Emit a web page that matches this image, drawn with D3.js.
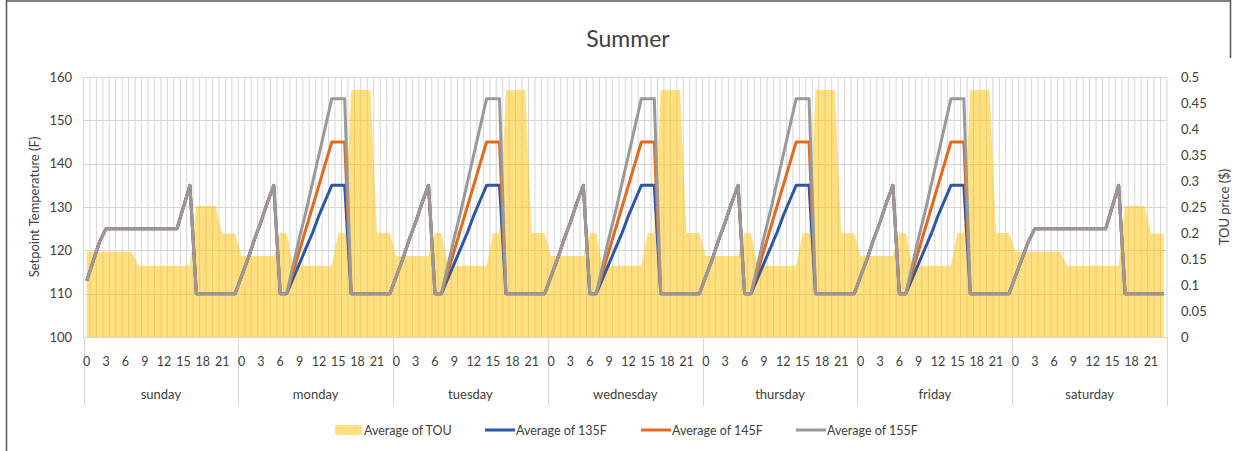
<!DOCTYPE html>
<html>
<head>
<meta charset="utf-8">
<script src="https://cdn.jsdelivr.net/npm/d3@7"></script>
<style>
  body { margin: 0; background: #fff; }
  svg text { font-family: Lato, "Open Sans", sans-serif; fill: #404040; }
</style>
</head>
<body>
<svg id="chart" width="1245" height="451"></svg>
<script>
// categories
var days = ["sunday", "monday", "tuesday", "wednesday", "thursday", "friday", "saturday"];
var hours = [0,1,2,3,4,5,6,7,8,9,10,11,12,13,14,15,16,17,18,19,20,21,22,23];
var hourLabels = [0, 3, 6, 9, 12, 15, 18, 21];

// TOU price ($) by hour, one profile for weekend and one for weekdays
var touWeekend = [0.164,0.164,0.164,0.164,0.164,0.164,0.164,0.164,
  0.137,0.137,0.137,0.137,0.137,0.137,0.137,0.137,0.137,
  0.252,0.252,0.252,0.252,0.199,0.199,0.199];
var touWeekday = [0.156,0.156,0.156,0.156,0.156,0.156,0.2,0.2,
  0.137,0.137,0.137,0.137,0.137,0.137,0.137,0.2,0.2,
  0.475,0.475,0.475,0.475,0.2,0.2,0.2];

// setpoint temperature (F) by hour
var tempSunday = [113,117.5,122,125,125,125,125,125,125,125,125,125,125,125,125,130,135,110,110,110,110,110,110,110];
var tempSaturday = [114,118,122,125,125,125,125,125,125,125,125,125,125,125,125,130,135,110,110,110,110,110,110,110];
var temp135Weekday = [114,118,122.5,126.5,131,135,110,110,113.5,117,120.5,124,128,131.5,135,135,135,110,110,110,110,110,110,110];
var temp145Weekday = [114,118,122.5,126.5,131,135,110,110,115,120,125,130,135,140,145,145,145,110,110,110,110,110,110,110];
var temp155Weekday = [114,118,122.5,126.5,131,135,110,110,116.5,123,129,135.5,142,148.5,155,155,155,110,110,110,110,110,110,110];

var leftTicks = [100,110,120,130,140,150,160];
var rightTicks = [0,0.05,0.1,0.15,0.2,0.25,0.3,0.35,0.4,0.45,0.5];

var seriesInfo = [
  { key: "t135", name: "Average of 135F", color: "#2B57A7" },
  { key: "t145", name: "Average of 145F", color: "#E2691D" },
  { key: "t155", name: "Average of 155F", color: "#999999" }
];

// build the week table
var rows = [];
days.forEach(function (day, di) {
  var weekend = (di === 0 || di === 6);
  var tEnd = di === 0 ? tempSunday : tempSaturday;
  hours.forEach(function (h) {
    rows.push({
      idx: di * 24 + h,
      day: day,
      hour: h,
      tou: weekend ? touWeekend[h] : touWeekday[h],
      t135: weekend ? tEnd[h] : temp135Weekday[h],
      t145: weekend ? tEnd[h] : temp145Weekday[h],
      t155: weekend ? tEnd[h] : temp155Weekday[h]
    });
  });
});

var svg = d3.select("#chart");
var plotL = 83.5, plotR = 1167, plotT = 77, plotB = 337;

var x = d3.scaleBand()
  .domain(rows.map(function (d) { return d.idx; }))
  .range([plotL, plotR])
  .paddingInner(0).paddingOuter(0);
var cx = function (d) { return x(d.idx) + x.bandwidth() / 2; };

var yL = d3.scaleLinear().domain([100, 160]).range([plotB, plotT]);
var yR = d3.scaleLinear().domain([0, 0.5]).range([plotB, plotT]);

// outer frame (as cropped in the screenshot)
svg.append("line").attr("x1", 6.5).attr("x2", 6.5).attr("y1", 0).attr("y2", 451)
  .attr("stroke", "#555").attr("stroke-width", 1.5);
svg.append("line").attr("x1", 6).attr("x2", 1231).attr("y1", 1).attr("y2", 1)
  .attr("stroke", "#555").attr("stroke-width", 1.5);
svg.append("line").attr("x1", 1230.5).attr("x2", 1230.5).attr("y1", 0).attr("y2", 58)
  .attr("stroke", "#555").attr("stroke-width", 1.5);

// title
svg.append("text").attr("x", 628).attr("y", 47).attr("text-anchor", "middle")
  .style("font-size", "23px").text("Summer");

// gridlines
var grid = svg.append("g").attr("stroke", "#D6D6D6").attr("stroke-width", 1);
grid.selectAll(".hg").data(leftTicks).enter().append("line")
  .attr("x1", plotL).attr("x2", plotR)
  .attr("y1", function (d) { return Math.round(yL(d)) + 0.5; })
  .attr("y2", function (d) { return Math.round(yL(d)) + 0.5; });
grid.selectAll(".vg").data(rows.concat([{ idx: 168 }])).enter().append("line")
  .attr("x1", function (d) { return d.idx < 168 ? x(d.idx) : plotR; })
  .attr("x2", function (d) { return d.idx < 168 ? x(d.idx) : plotR; })
  .attr("y1", plotT).attr("y2", plotB);

// TOU area
var area = d3.area()
  .x(cx)
  .y0(plotB)
  .y1(function (d) { return yR(d.tou); });
svg.append("path").datum(rows)
  .attr("d", area)
  .attr("fill", "#FFC000")
  .attr("fill-opacity", 0.5);

// temperature lines
seriesInfo.forEach(function (s) {
  var line = d3.line()
    .x(cx)
    .y(function (d) { return yL(d[s.key]); });
  svg.append("path").datum(rows)
    .attr("d", line)
    .attr("fill", "none")
    .attr("stroke", s.color)
    .attr("stroke-width", 3)
    .attr("stroke-linejoin", "round");
});

// left axis labels
svg.selectAll(".lt").data(leftTicks).enter().append("text")
  .attr("x", 72).attr("y", function (d) { return yL(d) + 4.5; })
  .attr("text-anchor", "end").style("font-size", "13px")
  .text(function (d) { return d; });
svg.append("text")
  .attr("transform", "translate(39," + ((plotT + plotB) / 2) + ") rotate(-90)")
  .attr("text-anchor", "middle").style("font-size", "13px")
  .text("Setpoint Temperature (F)");

// right axis labels
svg.selectAll(".rt").data(rightTicks).enter().append("text")
  .attr("x", 1181).attr("y", function (d) { return yR(d) + 4.5; })
  .attr("text-anchor", "start").style("font-size", "13px")
  .text(function (d) { return d; });
svg.append("text")
  .attr("transform", "translate(1229," + ((plotT + plotB) / 2) + ") rotate(-90)")
  .attr("text-anchor", "middle").style("font-size", "13px")
  .text("TOU price ($)");

// x axis: baseline, day separators, hour and day labels
svg.append("line").attr("x1", plotL).attr("x2", plotR).attr("y1", plotB + 0.5).attr("y2", plotB + 0.5)
  .attr("stroke", "#D6D6D6");
var dayEdges = days.map(function (d, i) { return x(i * 24); }).concat([plotR]);
svg.selectAll(".ds").data(dayEdges).enter().append("line")
  .attr("x1", function (d) { return Math.round(d) + 0.5; })
  .attr("x2", function (d) { return Math.round(d) + 0.5; })
  .attr("y1", plotB).attr("y2", 406)
  .attr("stroke", "#D6D6D6");

var hourRows = rows.filter(function (d) { return hourLabels.indexOf(d.hour) >= 0; });
svg.selectAll(".hl").data(hourRows).enter().append("text")
  .attr("x", cx).attr("y", 366)
  .attr("text-anchor", "middle").style("font-size", "12.5px")
  .text(function (d) { return d.hour; });

svg.selectAll(".dl").data(days).enter().append("text")
  .attr("x", function (d, i) { return (dayEdges[i] + dayEdges[i + 1]) / 2; })
  .attr("y", 399)
  .attr("text-anchor", "middle").style("font-size", "13px")
  .text(function (d) { return d; });

// legend
var legend = svg.append("g");
legend.append("rect").attr("x", 335).attr("y", 425).attr("width", 27).attr("height", 10)
  .attr("fill", "#FFC000").attr("fill-opacity", 0.5);
legend.append("text").attr("x", 364).attr("y", 434.5).style("font-size", "12.5px").text("Average of TOU");
var legendX = [485, 641, 796];
seriesInfo.forEach(function (s, i) {
  legend.append("line").attr("x1", legendX[i]).attr("x2", legendX[i] + 30)
    .attr("y1", 430).attr("y2", 430)
    .attr("stroke", s.color).attr("stroke-width", 3);
  legend.append("text").attr("x", legendX[i] + 31).attr("y", 434.5)
    .style("font-size", "12.5px").text(s.name);
});
</script>
</body>
</html>
